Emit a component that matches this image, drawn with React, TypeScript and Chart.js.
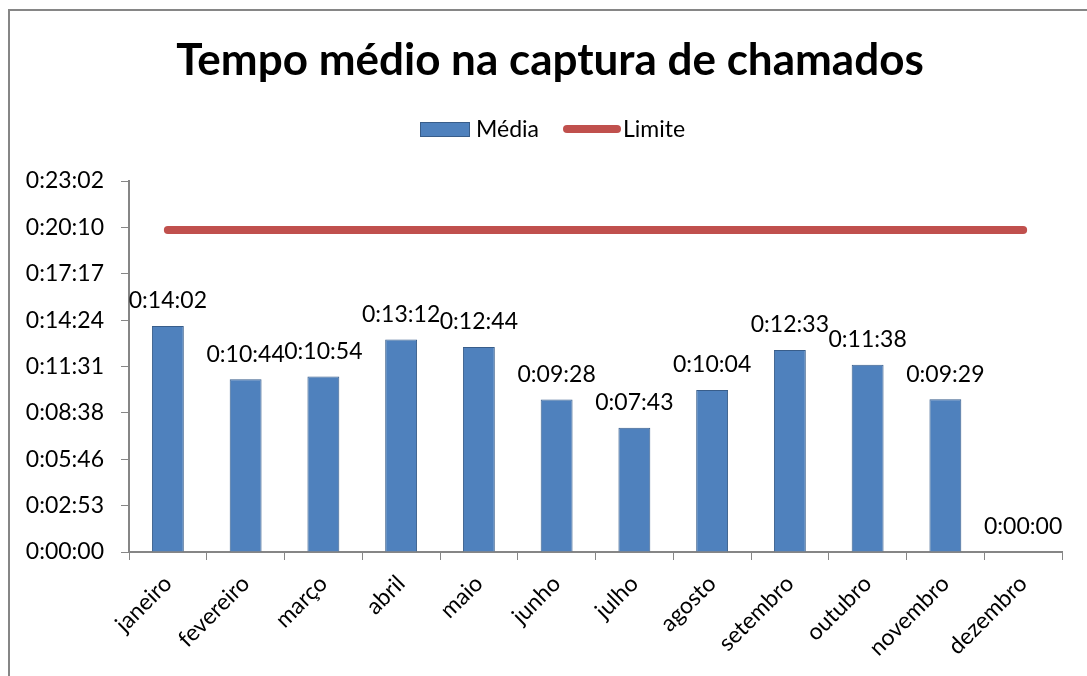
import React, { useEffect, useRef } from "react";
import { Chart, registerables } from "chart.js";

Chart.register(...registerables);

const titleText = "Tempo médio na captura de chamados";
const months = [
  "janeiro", "fevereiro", "março", "abril", "maio", "junho",
  "julho", "agosto", "setembro", "outubro", "novembro", "dezembro",
];
// seconds
const mediaValues = [842, 644, 654, 792, 764, 568, 463, 604, 753, 698, 569, 0];
const limiteValue = 1200;
const limiteValues = months.map(() => limiteValue);
const yMax = 1382.4;
const yStep = 172.8;

const FONT = "Lato, 'Open Sans', sans-serif";

function fmt(sec: number): string {
  const s = Math.round(sec);
  const h = Math.floor(s / 3600);
  const m = Math.floor((s % 3600) / 60);
  const ss = s % 60;
  return `${h}:${String(m).padStart(2, "0")}:${String(ss).padStart(2, "0")}`;
}

const decorPlugin = {
  id: "decor",
  afterDraw(chart: any) {
    const ctx = chart.ctx;
    ctx.save();
    // title
    ctx.fillStyle = "#000";
    ctx.font = `bold 44px ${FONT}`;
    ctx.textAlign = "center";
    ctx.textBaseline = "middle";
    ctx.fillText(titleText, 540, 50);

    // legend
    ctx.font = `23px ${FONT}`;
    ctx.textAlign = "left";
    ctx.textBaseline = "middle";
    const ly = 118;
    ctx.fillStyle = "#4F81BD";
    ctx.fillRect(410, ly - 7, 50, 15);
    ctx.strokeStyle = "#385D8A";
    ctx.lineWidth = 1;
    ctx.strokeRect(410.5, ly - 6.5, 49, 14);
    ctx.fillStyle = "#000";
    ctx.fillText("Média", 466, ly + 1);

    ctx.strokeStyle = "#C0504D";
    ctx.lineWidth = 8;
    ctx.lineCap = "round";
    ctx.beginPath();
    ctx.moveTo(557, ly);
    ctx.lineTo(607, ly);
    ctx.stroke();
    ctx.fillStyle = "#000";
    ctx.fillText("Limite", 613, ly + 1);

    // data labels
    const meta = chart.getDatasetMeta(0);
    ctx.font = `23px ${FONT}`;
    ctx.textAlign = "center";
    ctx.textBaseline = "middle";
    meta.data.forEach((bar: any, i: number) => {
      ctx.fillText(fmt(mediaValues[i]), bar.x, bar.y - 25);
    });
    ctx.restore();
  },
};

export default function App() {
  const ref = useRef<HTMLCanvasElement | null>(null);
  useEffect(() => {
    if (!ref.current) return;
    const chart = new Chart(ref.current, {
      type: "bar",
      data: {
        labels: months,
        datasets: [
          {
            type: "bar",
            label: "Média",
            data: mediaValues,
            backgroundColor: "#4F81BD",
            borderColor: "#385D8A",
            borderWidth: 1,
            barPercentage: 0.41,
            categoryPercentage: 1,
            order: 2,
          },
          {
            type: "line",
            label: "Limite",
            data: limiteValues,
            borderColor: "#C0504D",
            backgroundColor: "#C0504D",
            borderWidth: 8,
            borderCapStyle: "round",
            pointRadius: 0,
            pointHoverRadius: 0,
            fill: false,
            order: 1,
          },
        ] as any,
      },
      options: {
        animation: false,
        responsive: false,
        maintainAspectRatio: false,
        layout: { padding: { top: 170, left: 10, right: 25, bottom: 0 } },
        plugins: {
          legend: { display: false },
          title: { display: false },
          tooltip: { enabled: false },
        },
        scales: {
          x: {
            offset: true,
            grid: {
              display: true,
              drawOnChartArea: false,
              drawTicks: true,
              tickLength: 8,
              color: "#868686",
              offset: true,
            },
            border: { color: "#868686", width: 2 },
            ticks: {
              color: "#000",
              font: { family: FONT, size: 23 },
              minRotation: 45,
              maxRotation: 45,
              autoSkip: false,
              padding: 10,
            },
            afterFit(scale: any) {
              scale.height = 124;
            },
          },
          y: {
            min: 0,
            max: yMax,
            grid: {
              display: true,
              drawOnChartArea: false,
              drawTicks: true,
              tickLength: 8,
              color: "#868686",
            },
            border: { color: "#868686", width: 2 },
            ticks: {
              stepSize: yStep,
              color: "#000",
              font: { family: FONT, size: 23 },
              padding: 17,
              callback: (v: any) => fmt(Number(v)),
            },
            afterFit(scale: any) {
              scale.width = 109;
            },
          },
        },
      },
      plugins: [decorPlugin],
    });
    return () => chart.destroy();
  }, []);

  return (
    <div
      style={{
        position: "fixed",
        left: 8,
        top: 9,
        width: 1077,
        height: 665,
        borderLeft: "2px solid #868686",
        borderTop: "2px solid #868686",
        overflow: "hidden",
        background: "#fff",
      }}
    >
      <canvas ref={ref} width={1077} height={665} style={{ display: "block" }} />
    </div>
  );
}
